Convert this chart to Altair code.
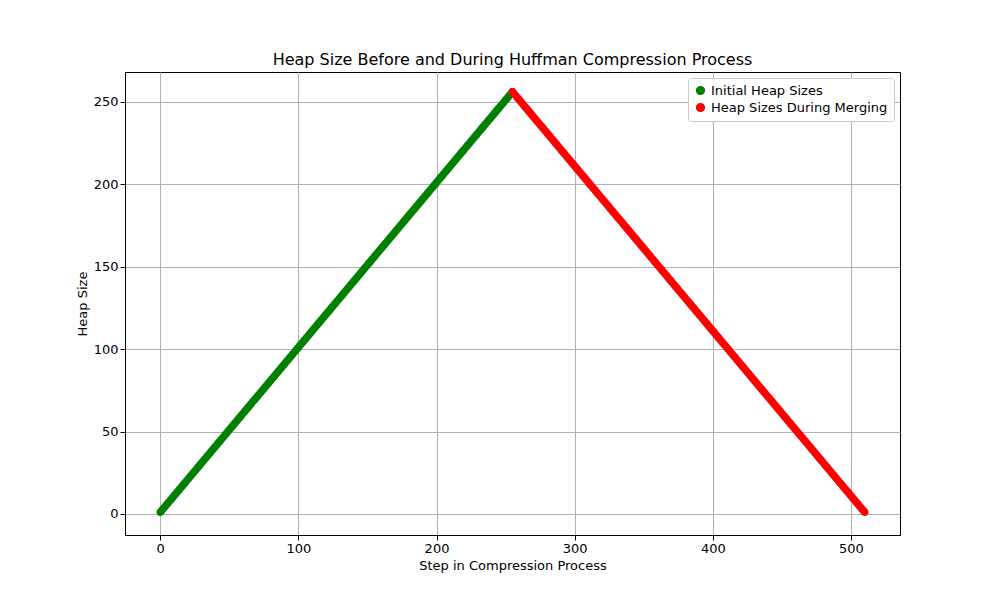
import altair as alt
import pandas as pd

# heap size after each insertion, then after each merge
initial_steps = list(range(0, 256))
initial_sizes = list(range(1, 257))
merge_steps = list(range(255, 511))
merge_sizes = list(range(256, 0, -1))

df = pd.concat([
    pd.DataFrame({"step": initial_steps, "size": initial_sizes, "series": "Initial Heap Sizes"}),
    pd.DataFrame({"step": merge_steps, "size": merge_sizes, "series": "Heap Sizes During Merging"}),
])

color = alt.Color(
    "series:N",
    scale=alt.Scale(domain=["Initial Heap Sizes", "Heap Sizes During Merging"], range=["#008000", "#ff0000"]),
    legend=alt.Legend(title=None, orient="top-right", symbolType="circle", symbolSize=60, labelLimit=300,
                      labelFontSize=13, strokeColor="#cccccc", fillColor="white", padding=6, cornerRadius=3,
                      offset=6),
)

chart = alt.Chart(df).mark_line(point=alt.OverlayMarkDef(size=55, filled=True, opacity=1), strokeWidth=1.5).encode(
    x=alt.X("step:Q", title="Step in Compression Process", scale=alt.Scale(domain=[-25.5, 535.5], nice=False, zero=False),
            axis=alt.Axis(values=[0, 100, 200, 300, 400, 500])),
    y=alt.Y("size:Q", title="Heap Size", scale=alt.Scale(domain=[-12.75, 268], nice=False, zero=False),
            axis=alt.Axis(values=[0, 50, 100, 150, 200, 250])),
    color=color,
    detail="series:N",
).properties(
    width=775, height=463,
    title=alt.TitleParams("Heap Size Before and During Huffman Compression Process", fontSize=16, fontWeight="normal"),
    autosize=alt.AutoSizeParams(type="none"),
    padding={"left": 117, "top": 64, "right": 90, "bottom": 55},
).configure(
    font="DejaVu Sans",
).configure_axis(
    grid=True, gridColor="#b0b0b0", labelFontSize=13, titleFontSize=13, titleFontWeight="normal",
    domainColor="black", tickColor="black", labelColor="black", titleColor="black",
    labelFont="DejaVu Sans", titleFont="DejaVu Sans",
).configure_view(stroke="black")

chart.save("out.html", embed_options={"renderer": "svg", "actions": False})
